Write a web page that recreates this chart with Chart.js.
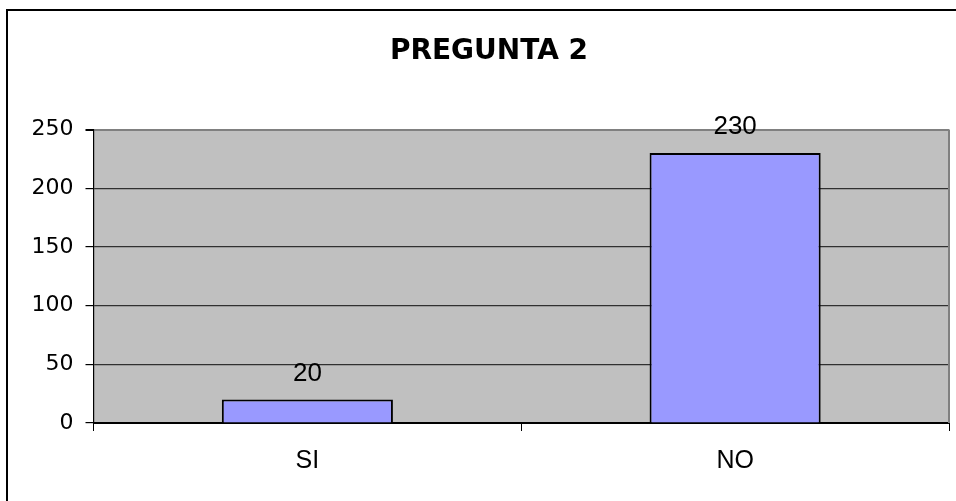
<!DOCTYPE html>
<html>
<head>
<meta charset="utf-8">
<script src="https://cdn.jsdelivr.net/npm/chart.js@4/dist/chart.umd.min.js"></script>
<style>
  html, body { margin: 0; padding: 0; background: #fff; overflow: hidden; width: 956px; height: 501px; }
  #frame { position: absolute; left: 6px; top: 9px; width: 962px; height: 500px; border: 2px solid #000; background: #fff; }
  canvas { display: block; }
</style>
</head>
<body>
<div id="frame"><canvas id="c" width="962" height="500"></canvas></div>
<script>
const titleText = 'PREGUNTA 2';
const categories = ['SI', 'NO'];
const values = [20, 230];
const yTicks = [0, 50, 100, 150, 200, 250];

const plotBg = {
  id: 'plotBg',
  beforeDraw(chart) {
    const a = chart.chartArea, ctx = chart.ctx;
    ctx.save();
    ctx.fillStyle = '#C0C0C0';
    ctx.fillRect(a.left, a.top, a.right - a.left, a.bottom - a.top);
    ctx.restore();
  },
  afterDraw(chart) {
    const a = chart.chartArea, ctx = chart.ctx;
    ctx.save();
    ctx.strokeStyle = '#808080';
    ctx.lineWidth = 2;
    ctx.beginPath();
    ctx.moveTo(a.right, a.top);
    ctx.lineTo(a.right, a.bottom);
    ctx.stroke();
    ctx.restore();
  }
};

const valueLabels = {
  id: 'valueLabels',
  afterDatasetsDraw(chart) {
    const ctx = chart.ctx;
    const meta = chart.getDatasetMeta(0);
    ctx.save();
    ctx.font = '26px "Liberation Sans", Arial, sans-serif';
    ctx.fillStyle = '#000';
    ctx.textAlign = 'center';
    ctx.textBaseline = 'middle';
    meta.data.forEach((el, i) => {
      ctx.fillText(String(chart.data.datasets[0].data[i]), el.x, el.y - 26);
    });
    ctx.restore();
  }
};

new Chart(document.getElementById('c'), {
  type: 'bar',
  data: {
    labels: categories,
    datasets: [{
      data: values,
      backgroundColor: '#9999FF',
      borderColor: '#000',
      borderWidth: 2,
      barPercentage: 0.4,
      categoryPercentage: 1.0
    }]
  },
  options: {
    responsive: false,
    animation: false,
    layout: { padding: { left: 21, right: 21, top: 0, bottom: 0 } },
    plugins: {
      legend: { display: false },
      tooltip: { enabled: false },
      title: {
        display: true,
        text: titleText,
        color: '#000',
        font: { family: '"DejaVu Sans", sans-serif', size: 28, weight: 'bold' },
        padding: { top: 24, bottom: 61 }
      }
    },
    scales: {
      x: {
        afterFit(scale) { scale.height = 88; },
        grid: { display: true, drawOnChartArea: false, drawTicks: true, tickLength: 8, color: '#000', offset: true },
        border: { display: true, color: '#000', width: 2 },
        ticks: { color: '#000', padding: 15, font: { family: '"Liberation Sans", Arial, sans-serif', size: 25 } }
      },
      y: {
        min: 0,
        max: 250,
        afterFit(scale) { scale.width = 64.5; },
        afterBuildTicks(scale) { scale.ticks = yTicks.map(v => ({ value: v })); },
        grid: {
          color: ctx => (ctx.tick && ctx.tick.value === 250) ? '#808080' : '#303030',
          lineWidth: ctx => (ctx.tick && ctx.tick.value === 250) ? 2 : 1.2,
          tickColor: '#000',
          tickLength: 8,
          drawTicks: true
        },
        border: { display: true, color: '#000', width: 1.2 },
        ticks: { color: '#000', padding: 12, stepSize: 50, font: { family: '"DejaVu Sans", sans-serif', size: 22 } }
      }
    }
  },
  plugins: [plotBg, valueLabels]
});
</script>
</body>
</html>
